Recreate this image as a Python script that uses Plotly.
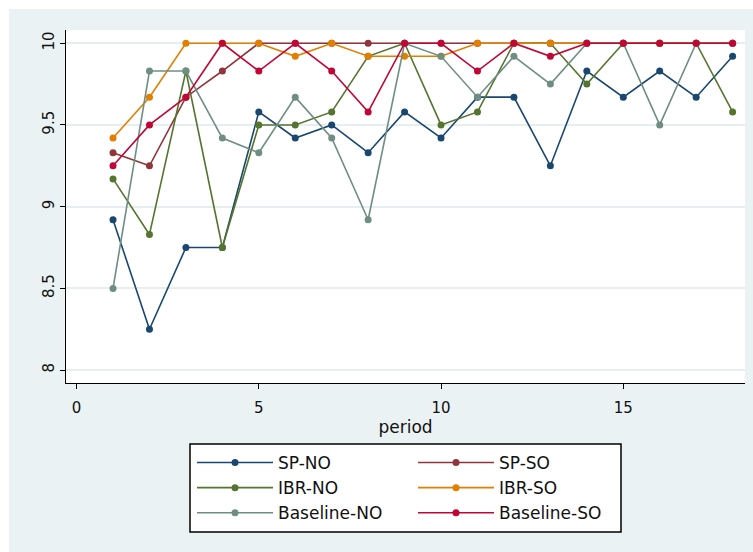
import plotly.graph_objects as go

# Period index and the six treatment series
periods = list(range(1, 19))
sp_no = [8.92, 8.25, 8.75, 8.75, 9.58, 9.42, 9.5, 9.33, 9.58, 9.42, 9.67, 9.67, 9.25, 9.83, 9.67, 9.83, 9.67, 9.92]
sp_so = [9.33, 9.25, 9.67, 9.83, 10, 10, 10, 10, 10, 10, 10, 10, 10, 10, 10, 10, 10, 10]
ibr_no = [9.17, 8.83, 9.83, 8.75, 9.5, 9.5, 9.58, 9.92, 10, 9.5, 9.58, 10, 10, 9.75, 10, 10, 10, 9.58]
ibr_so = [9.42, 9.67, 10, 10, 10, 9.92, 10, 9.92, 9.92, 9.92, 10, 10, 10, 10, 10, 10, 10, 10]
base_no = [8.5, 9.83, 9.83, 9.42, 9.33, 9.67, 9.42, 8.92, 10, 9.92, 9.67, 9.92, 9.75, 10, 10, 9.5, 10, 10]
base_so = [9.25, 9.5, 9.67, 10, 9.83, 10, 9.83, 9.58, 10, 10, 9.83, 10, 9.92, 10, 10, 10, 10, 10]

x_ticks = [0, 5, 10, 15]
y_ticks = [8, 8.5, 9, 9.5, 10]
y_tick_text = ["8", "8.5", "9", "9.5", "10"]

series = [
    ("SP-NO", sp_no, "#1A476F", "legend"),
    ("SP-SO", sp_so, "#90353B", "legend2"),
    ("IBR-NO", ibr_no, "#55752F", "legend"),
    ("IBR-SO", ibr_so, "#E37E00", "legend2"),
    ("Baseline-NO", base_no, "#6E8E84", "legend"),
    ("Baseline-SO", base_so, "#C10534", "legend2"),
]

FONT = "DejaVu Sans"
BG = "#EAF2F3"

fig = go.Figure()
for name, vals, color, leg in series:
    fig.add_trace(go.Scatter(
        x=periods, y=vals, name=name, mode="lines+markers",
        line=dict(color=color, width=1.6),
        marker=dict(color=color, size=7, symbol="circle"),
        legend=leg, legendgroup=name,
    ))

W, H = 753, 552
L, R, T, B = 66, 8, 30, 169
pw, ph = W - L - R, H - T - B


def px(x):
    return (x - L) / pw


def py(y):
    return (H - B - y) / ph


shapes = [
    # figure background band
    dict(type="rect", xref="paper", yref="paper", layer="below",
         x0=px(9), x1=px(753), y0=py(552), y1=py(9),
         fillcolor=BG, line=dict(width=0)),
    # plot region
    dict(type="rect", xref="paper", yref="paper", layer="below",
         x0=0, x1=1, y0=0, y1=1, fillcolor="white", line=dict(width=0)),
    # legend frame
    dict(type="rect", xref="paper", yref="paper", layer="below",
         x0=px(190), x1=px(621), y0=py(532), y1=py(444),
         fillcolor="white", line=dict(color="black", width=1.5)),
]

legend_common = dict(
    orientation="v", bgcolor="rgba(0,0,0,0)", borderwidth=0,
    font=dict(family=FONT, size=17, color="#111111"),
    itemwidth=76, tracegroupgap=5, yanchor="top", xanchor="left",
    traceorder="normal",
)

fig.update_layout(
    width=W, height=H,
    margin=dict(l=L, r=R, t=T, b=B, pad=0),
    paper_bgcolor="white", plot_bgcolor="white",
    font=dict(family=FONT, color="#111111"),
    shapes=shapes,
    showlegend=True,
    legend=dict(x=px(192), y=py(445), **legend_common),
    legend2=dict(x=px(413), y=py(445), **legend_common),
    xaxis=dict(
        range=[-0.29, 18.34], tickvals=x_ticks, showgrid=False, zeroline=False,
        showline=True, linecolor="black", linewidth=1,
        ticks="outside", ticklen=5, tickcolor="black", ticklabelstandoff=6,
        tickfont=dict(family=FONT, size=15, color="#111111"),
        title=dict(text="period", font=dict(family=FONT, size=17, color="#111111"), standoff=1),
    ),
    yaxis=dict(
        range=[7.921, 10.081], tickvals=y_ticks, ticktext=y_tick_text,
        showgrid=True, gridcolor="#E6EEEF", gridwidth=1.5, zeroline=False,
        showline=True, linecolor="black", linewidth=1,
        ticks="outside", ticklen=5, tickcolor="black", tickangle=-90,
        tickfont=dict(family=FONT, size=15, color="#111111"),
    ),
)

fig.write_html("out.html")
